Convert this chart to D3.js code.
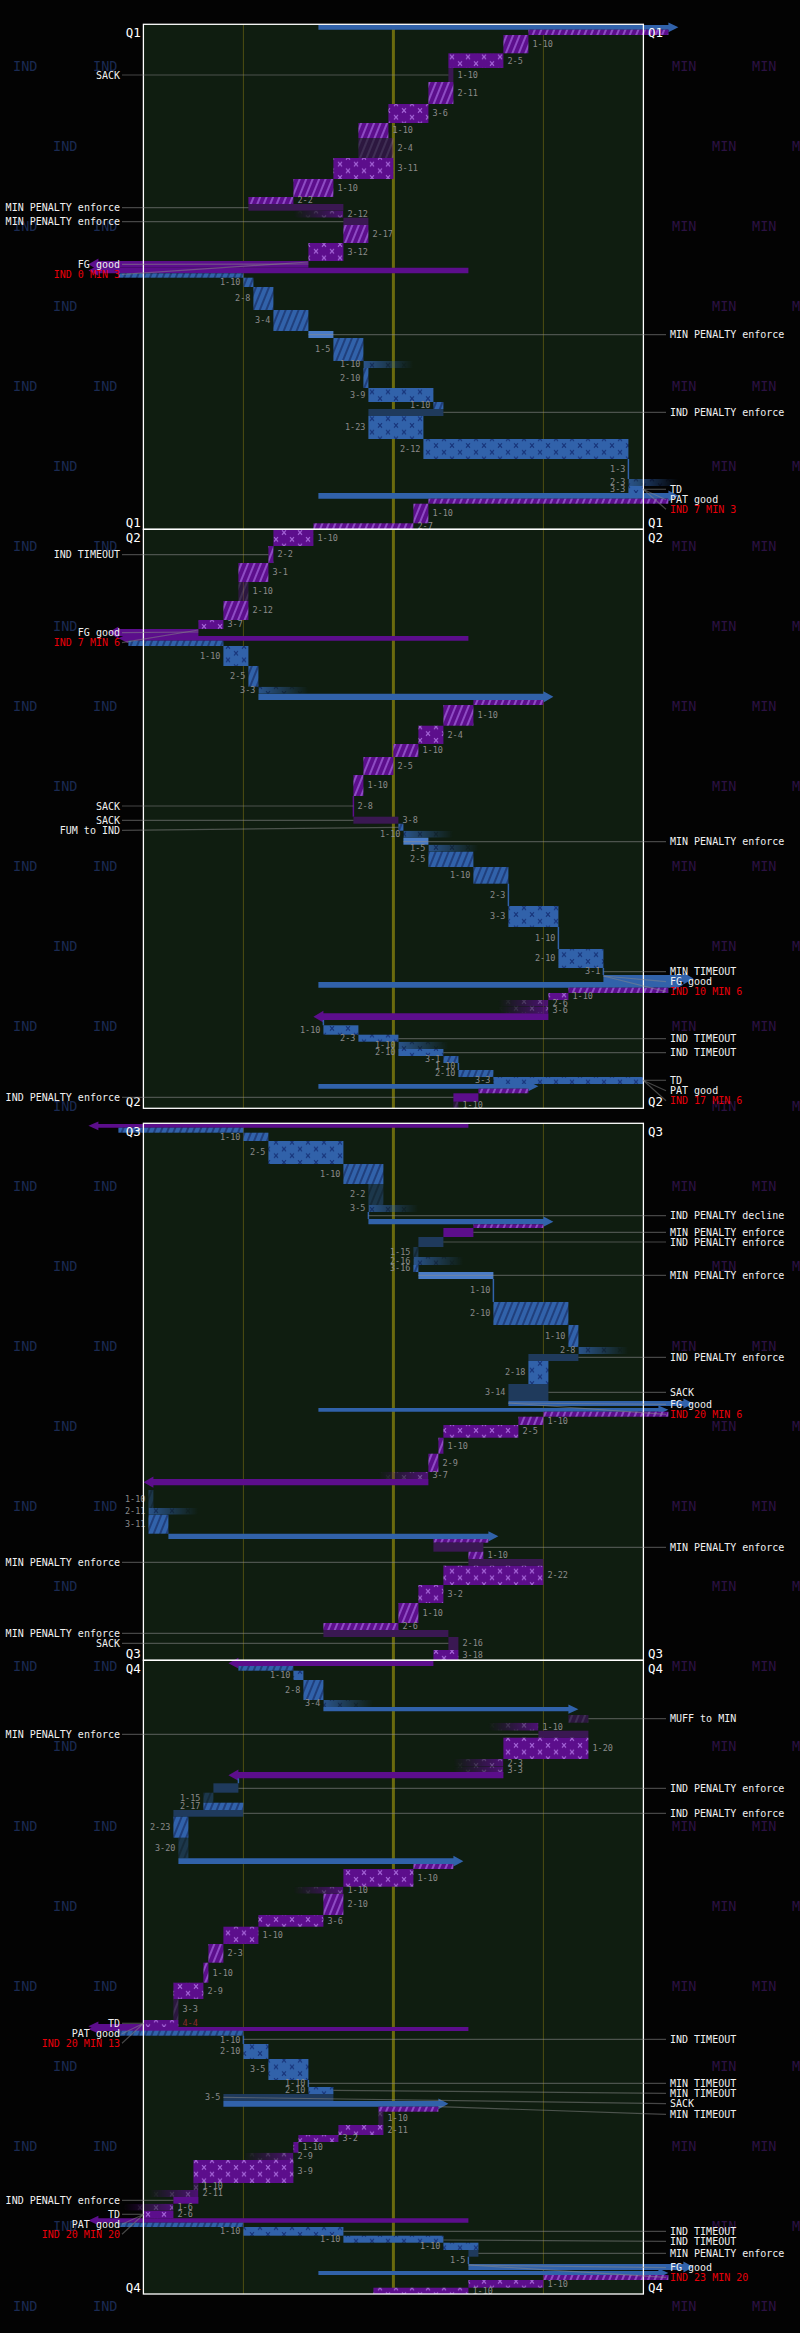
<!DOCTYPE html>
<html><head><meta charset="utf-8">
<script src="https://cdn.jsdelivr.net/npm/d3@7"></script>
<style>body{margin:0;background:#030303}svg{display:block}</style>
</head><body><svg id="c" width="800" height="2333"></svg>
<script>
// ---------- DATA ----------
const quarters = ["Q1","Q2","Q3","Q4"];
const quarterStart = [0.3, 505.3, 1099.3, 1636.3];   // timeline units
const quarterEnd   = [505.3, 1084.3, 1636.3, 2270];
const yardLines = [20, 50, 80];
const teams = ["IND","MIN"];

// [team, type, fromYard, toYard, t0, t1, downLabel]
const plays = [
 ['I','kick',35,107,1,5.7,''],
 ['M','ret',105,77,5.7,11,''],
 ['M','run',77,72,11,29.3,'1-10'],
 ['M','pass',72,61,29.3,44,'2-5'],
 ['M','sack',61,62,44,58,'1-10'],
 ['M','run',62,57,58,80,'2-11'],
 ['M','pass',57,49,80,99,'3-6'],
 ['M','run',49,43,99,114,'1-10'],
 ['M','runL',43,50,114,134,'2-4'],
 ['M','pass',50,38,134,155,'3-11'],
 ['M','run',38,30,155,173,'1-10'],
 ['M','run',30,21,173,180,'2-2'],
 ['M','penB',21,40,180,186.7,''],
 ['M','inc',40,40,186.7,193.7,'2-12'],
 ['M','penB',40,45,193.7,201,''],
 ['M','run',45,40,201,219,'2-17'],
 ['M','pass',40,33,219,237,'3-12'],
 ['M','kick',33,-11,237,243.7,''],
 ['M','kick',65,-11,243.7,249.3,''],
 ['I','ret',-5,20,249.3,253.7,''],
 ['I','run',20,22,253.7,263,'1-10'],
 ['I','run',22,26,263,286,'2-8'],
 ['I','run',26,33,286,307,'3-4'],
 ['I','penG',33,38,307,314,''],
 ['I','run',38,44,314,337,'1-5'],
 ['I','inc',44,44,337,344,'1-10'],
 ['I','run',44,45,344,364,'2-10'],
 ['I','pass',45,58,364,378,'3-9'],
 ['I','run',58,60,378,385,'1-10'],
 ['I','penB',60,45,385,392,''],
 ['I','pass',45,56,392,415,'1-23'],
 ['I','pass',56,97,415,435,'2-12'],
 ['I','zero',97,97,435,455,'1-3'],
 ['I','inc',97,97,455,462,'2-3'],
 ['I','pass',97,100,462,469,'3-3'],
 ['I','kick',35,107,469,474.7,''],
 ['M','ret',105,57,474.7,479.7,''],
 ['M','run',57,54,479.7,499.3,'1-10'],
 ['M','run',54,34,499.3,505.3,'2-7'],
 ['M','pass',34,26,505.3,522,'1-10'],
 ['M','run',26,25,522,539,'2-2'],
 ['M','run',25,19,539,558,'3-1'],
 ['M','runL',19,21,558,577,'1-10'],
 ['M','run',21,16,577,596,'2-12'],
 ['M','pass',16,11,596,605,'3-7'],
 ['M','kick',11,-7,605,612,''],
 ['M','kick',65,-5,612,616.7,''],
 ['I','ret',-3,16,616.7,622,''],
 ['I','pass',16,21,622,642,'1-10'],
 ['I','run',21,23,642,662.7,'2-5'],
 ['I','inc',23,23,662.7,669.7,'3-3'],
 ['I','kick',23,82,669.7,676,''],
 ['M','ret',80,66,676,681,''],
 ['M','run',66,60,681,701.7,'1-10'],
 ['M','pass',60,55,701.7,720,'2-4'],
 ['M','run',55,50,720,733,'1-10'],
 ['M','run',50,44,733,751,'2-5'],
 ['M','run',44,42,751,772,'1-10'],
 ['M','zero',42,42,772,792.7,'2-8'],
 ['M','sack',42,51,792.7,799.7,'3-8'],
 ['I','ret',51,52,799.7,806.7,''],
 ['I','inc',52,52,806.7,813.7,'1-10'],
 ['I','penG',52,57,813.7,820.7,''],
 ['I','inc',57,57,820.7,827.7,'1-5'],
 ['I','run',57,66,827.7,843,'2-5'],
 ['I','run',66,73,843,859.7,'1-10'],
 ['I','zero',73,73,859.7,882,'2-3'],
 ['I','pass',73,83,882,903,'3-3'],
 ['I','zero',83,83,903,925,'1-10'],
 ['I','pass',83,92,925,944,'2-10'],
 ['I','zero',92,92,944,951,'3-1'],
 ['I','kick',92,110,951,958,''],
 ['I','kick',35,108,958,963.7,''],
 ['M','ret',105,85,963.7,969,''],
 ['M','pass',85,81,969,976,'1-10'],
 ['M','inc',81,81,976,982.7,'2-6'],
 ['M','inc',81,81,982.7,989.3,'3-6'],
 ['M','kick',81,34,989.3,996,''],
 ['I','zero',36,36,996,1001.3,''],
 ['I','pass',36,43,1001.3,1010.7,'1-10'],
 ['I','pass',43,51,1010.7,1017.7,'2-3'],
 ['I','inc',51,51,1017.7,1025,'1-10'],
 ['I','pass',51,60,1025,1032,'2-10'],
 ['I','run',60,63,1032,1039,'3-1'],
 ['I','zero',63,63,1039,1046,'1-10'],
 ['I','run',63,70,1046,1053,'2-10'],
 ['I','pass',70,100,1053,1060,'3-3'],
 ['I','kick',35,79,1060,1064.7,''],
 ['M','ret',77,67,1064.7,1069.3,''],
 ['M','penG',67,62,1069.3,1077.7,''],
 ['M','runL',62,63,1077.7,1084.3,'1-10'],
 ['M','kick',65,-11,1100,1103.7,''],
 ['I','ret',-5,20,1103.7,1108.7,''],
 ['I','run',20,25,1108.7,1117,'1-10'],
 ['I','pass',25,40,1117,1140,'2-5'],
 ['I','run',40,48,1140,1160,'1-10'],
 ['I','runL',48,45,1160,1181,'2-2'],
 ['I','inc',45,45,1181,1188,'3-5'],
 ['I','zero',45,45,1188,1195,''],
 ['I','kick',45,82,1195,1200.3,''],
 ['M','ret',80,66,1200.3,1204,''],
 ['M','penG',66,60,1204,1213,''],
 ['I','penB',60,55,1213,1223,''],
 ['I','runL',55,54,1223,1233,'1-15'],
 ['I','inc',54,54,1233,1241,'2-16'],
 ['I','run',54,55,1241,1248,'3-16'],
 ['I','penG',55,70,1248,1255,''],
 ['I','zero',70,70,1255,1278,'1-10'],
 ['I','run',70,85,1278,1301,'2-10'],
 ['I','run',85,87,1301,1323,'1-10'],
 ['I','inc',87,87,1323,1330,'2-8'],
 ['I','penB',87,77,1330,1337,''],
 ['I','pass',77,81,1337,1360,'2-18'],
 ['I','sack',81,73,1360,1377,'3-14'],
 ['I','kick',73,110,1377,1382,''],
 ['I','kick',35,105,1384,1387.7,''],
 ['M','ret',105,80,1387.7,1392.7,''],
 ['M','run',80,75,1392.7,1401,'1-10'],
 ['M','pass',75,60,1401,1413.7,'2-5'],
 ['M','run',60,59,1413.7,1429.7,'1-10'],
 ['M','run',59,57,1429.7,1448,'2-9'],
 ['M','inc',57,57,1448,1455,'3-7'],
 ['M','kick',57,0,1455,1461.3,''],
 ['I','runL',2,1,1466,1484,'1-10'],
 ['I','inc',1,1,1484,1490.7,'2-11'],
 ['I','run',1,5,1490.7,1509.7,'3-11'],
 ['I','kick',5,71,1509.7,1515,''],
 ['M','ret',69,58,1515,1518.7,''],
 ['M','penB',58,68,1518.7,1527.7,''],
 ['M','run',68,65,1527.7,1535,'1-10'],
 ['M','penB',65,80,1535,1541.7,''],
 ['M','pass',80,60,1541.7,1561,'2-22'],
 ['M','pass',60,55,1561,1579,'3-2'],
 ['M','run',55,51,1579,1599,'1-10'],
 ['M','run',51,36,1599,1606,'2-6'],
 ['M','penB',36,61,1606,1613,''],
 ['M','sack',61,63,1613,1626,'2-16'],
 ['M','pass',63,58,1626,1636.3,'3-18'],
 ['M','kick',58,17,1636.3,1642,''],
 ['I','ret',19,30,1642,1646.7,''],
 ['I','pass',30,32,1646.7,1656,'1-10'],
 ['I','run',32,36,1656,1676,'2-8'],
 ['I','inc',36,36,1676,1683,'3-4'],
 ['I','kick',36,87,1683,1687.3,''],
 ['M','runL',89,85,1691,1698.7,''],
 ['M','inc',79,79,1698.7,1706.7,'1-10'],
 ['M','penB',79,89,1706.7,1713.7,''],
 ['M','pass',89,72,1713.7,1735,'1-20'],
 ['M','inc',72,72,1735,1742.7,'2-3'],
 ['M','inc',72,72,1742.7,1749.7,'3-3'],
 ['M','kick',72,17,1748,1754.3,''],
 ['I','zero',19,19,1754.3,1759.3,''],
 ['I','penB',19,14,1759.3,1768.7,''],
 ['I','runL',14,12,1768.7,1778.7,'1-15'],
 ['I','run',12,20,1778.7,1786,'2-17'],
 ['I','penB',20,6,1786,1792.7,''],
 ['I','run',6,9,1792.7,1813.7,'2-23'],
 ['I','runL',9,7,1813.7,1834.3,'3-20'],
 ['I','kick',7,64,1834.3,1840,''],
 ['M','ret',62,54,1840,1845,''],
 ['M','pass',54,40,1845,1862.7,'1-10'],
 ['M','inc',40,40,1862.7,1869.7,'1-10'],
 ['M','run',40,36,1869.7,1891,'2-10'],
 ['M','pass',36,23,1891,1902.7,'3-6'],
 ['M','pass',23,16,1902.7,1920,'1-10'],
 ['M','run',16,13,1920,1938.7,'2-3'],
 ['M','run',13,12,1938.7,1958.7,'1-10'],
 ['M','pass',12,6,1958.7,1975,'2-9'],
 ['M','runL',6,7,1975,1996,'3-3'],
 ['M','pass',7,0,1996,2003,'4-4'],
 ['M','kick',0,-11,2000,2004.5,''],
 ['M','kick',65,-11,2003,2007,''],
 ['I','ret',-5,20,2006.7,2011.7,''],
 ['I','zero',20,20,2011.7,2020,'1-10'],
 ['I','pass',20,25,2020,2035,'2-10'],
 ['I','pass',25,33,2035,2056,'3-5'],
 ['I','zero',33,33,2056,2063,'1-10'],
 ['I','pass',33,38,2063,2070,'2-10'],
 ['I','sack',38,16,2070,2077,'3-5'],
 ['I','kick',16,61,2077,2082.7,''],
 ['M','ret',59,47,2082.7,2087.7,''],
 ['M','passL',47,48,2087.7,2101,'1-10'],
 ['M','pass',48,39,2101,2111,'2-11'],
 ['M','pass',39,31,2111,2118,'3-2'],
 ['M','pass',31,30,2118,2128.7,'1-10'],
 ['M','inc',30,30,2128.7,2136,'2-9'],
 ['M','pass',30,10,2136,2159,'3-9'],
 ['M','passL',10,11,2159,2166,'1-10'],
 ['M','inc',11,11,2166,2173,'2-11'],
 ['M','penG',11,6,2173,2179.7,''],
 ['M','inc',6,6,2179.7,2186.7,'1-6'],
 ['M','pass',6,0,2186.7,2194.3,'2-6'],
 ['M','kick',65,-11,2194.3,2198.7,''],
 ['I','ret',-5,20,2198.7,2203,''],
 ['I','pass',20,40,2203,2211.7,'1-10'],
 ['I','pass',40,60,2211.7,2218.7,'1-10'],
 ['I','pass',60,67,2218.7,2226,'1-10'],
 ['I','penB',67,65,2226,2232.7,''],
 ['I','zero',65,65,2232.7,2240,'1-5'],
 ['I','kick',65,110,2240,2246,''],
 ['I','kick',35,105,2247,2251,''],
 ['M','ret',105,80,2251,2256,''],
 ['M','pass',80,65,2256,2263.7,'1-10'],
 ['M','pass',65,46,2263.7,2270,'1-10']
];

// [side, text, labelT, targetYard, targetT, kind]
const notes = [
 ['L','SACK',51,61,51],
 ['L','MIN PENALTY enforce',183.7,21,183.7],
 ['L','MIN PENALTY enforce',197.7,40,197.7],
 ['L','FG good',240.3,33,240],
 ['L','IND 0 MIN 3',250.3,33,238,'s'],
 ['R','MIN PENALTY enforce',310.7,33,310.7],
 ['R','IND PENALTY enforce',388.3,60,388.3],
 ['R','TD',465.3,100,465.3],
 ['R','PAT good',475.7,100,465.5],
 ['R','IND 7 MIN 3',485.3,100,465.5,'s'],
 ['L','IND TIMEOUT',530.7,25,530.7],
 ['L','FG good',608.7,11,608],
 ['L','IND 7 MIN 6',618.7,11,606,'s'],
 ['L','SACK',782,42,782],
 ['L','SACK',796.3,42,796.3],
 ['L','FUM to IND',806.3,51,803.3],
 ['R','MIN PENALTY enforce',817.7,52,817.7],
 ['R','MIN TIMEOUT',947.7,92,947.7],
 ['R','FG good',957.7,92,952],
 ['R','IND 10 MIN 6',967.7,92,952,'s'],
 ['R','IND TIMEOUT',1014.7,51,1014.7],
 ['R','IND TIMEOUT',1028.7,60,1028.7],
 ['R','TD',1056.3,100,1056.3],
 ['R','PAT good',1066.7,100,1056.5],
 ['R','IND 17 MIN 6',1076.7,100,1056.5,'s'],
 ['L','IND PENALTY enforce',1073.3,62,1073.3],
 ['R','IND PENALTY decline',1191.7,45,1191.7],
 ['R','MIN PENALTY enforce',1208.3,66,1208.3],
 ['R','IND PENALTY enforce',1218,60,1218],
 ['R','MIN PENALTY enforce',1251.3,55,1251.3],
 ['R','IND PENALTY enforce',1333.3,87,1333.3],
 ['R','SACK',1368.3,81,1368.3],
 ['R','FG good',1380.3,73,1379],
 ['R','IND 20 MIN 6',1390.3,73,1379,'s'],
 ['R','MIN PENALTY enforce',1523.3,68,1523.3],
 ['L','MIN PENALTY enforce',1538.3,65,1538.3],
 ['L','MIN PENALTY enforce',1609.3,36,1609.3],
 ['L','SACK',1619.3,61,1619.3],
 ['R','MUFF to MIN',1694.7,89,1694.7],
 ['L','MIN PENALTY enforce',1710.3,79,1710.3],
 ['R','IND PENALTY enforce',1764.3,19,1764.3],
 ['R','IND PENALTY enforce',1789.3,20,1789.3],
 ['L','TD',1999.3,0,1999.3],
 ['L','PAT good',2009.7,0,1999.5],
 ['L','IND 20 MIN 13',2019.3,0,1999.5,'s'],
 ['R','IND TIMEOUT',2015.3,20,2015.3],
 ['R','MIN TIMEOUT',2059.3,33,2059.3],
 ['R','MIN TIMEOUT',2069.3,38,2066.3],
 ['R','SACK',2079.7,16,2073.3],
 ['R','MIN TIMEOUT',2090.3,59,2082.7],
 ['L','IND PENALTY enforce',2176.3,6,2176.3],
 ['L','TD',2190.3,0,2190.3],
 ['L','PAT good',2200.3,0,2190.5],
 ['L','IND 20 MIN 20',2210.3,0,2190.5,'s'],
 ['R','IND TIMEOUT',2207.3,40,2207.3],
 ['R','IND TIMEOUT',2217.3,60,2216],
 ['R','MIN PENALTY enforce',2229.3,67,2229.3],
 ['R','FG good',2243.7,65,2241],
 ['R','IND 23 MIN 20',2253.3,65,2241,'s']
];

// ---------- DRAW ----------
const svg = d3.select('#c');
const W = 800, H = 2333;
const x = d3.scaleLinear().domain([0,100]).range([143.4,643.4]);
const y = d3.scaleLinear().domain([0,2270]).range([24,2294]);
const mono = "'DejaVu Sans Mono', 'Liberation Mono', monospace";
const col = {I:'#3162aa', M:'#5c0e8c'};
const stripe = {I:'#1b3670', M:'#9a5ad2'};
const xmark = {I:'#17347a', M:'#a565d8'};
const dark = {I:'#1f3a5c', M:'#3a1852'};
const light = {I:'#4a7cc6', M:'#5c0e8c'};

svg.append('rect').attr('width',W).attr('height',H).attr('fill','#030303');
const defs = svg.append('defs');
['I','M'].forEach(k=>{
  const h = defs.append('pattern').attr('id','hatch'+k).attr('patternUnits','userSpaceOnUse')
    .attr('width',6).attr('height',6).attr('patternTransform','rotate(22)');
  h.append('rect').attr('width',6).attr('height',6).attr('fill',col[k]);
  h.append('line').attr('x1',3).attr('x2',3).attr('y1',-1).attr('y2',7)
    .attr('stroke',stripe[k]).attr('stroke-width',1.6);
  const p = defs.append('pattern').attr('id','xp'+k).attr('patternUnits','userSpaceOnUse')
    .attr('width',16).attr('height',13.4);
  p.append('rect').attr('width',16).attr('height',13.4).attr('fill',col[k]);
  [[4,3.3],[12,10]].forEach(([cx,cy])=>{
    p.append('path').attr('d',`M${cx-2},${cy-2.2}L${cx+2},${cy+2.2}M${cx+2},${cy-2.2}L${cx-2},${cy+2.2}`)
     .attr('stroke',xmark[k]).attr('stroke-width',1.1).attr('fill','none');
  });
});
[['fadeR',1,0],['fadeL',0,1]].forEach(([id,a,b])=>{
  const g = defs.append('linearGradient').attr('id','g'+id).attr('x1',0).attr('x2',1).attr('y1',0).attr('y2',0);
  g.append('stop').attr('offset',0).attr('stop-color', a? '#ccc':'#000');
  g.append('stop').attr('offset',1).attr('stop-color', b? '#ccc':'#000');
  const m = defs.append('mask').attr('id',id).attr('maskContentUnits','objectBoundingBox');
  m.append('rect').attr('width',1).attr('height',1).attr('fill','url(#g'+id+')');
});

// background team watermark
const bg = svg.append('g').attr('font-family',mono).attr('font-size',13.5);
d3.range(0,29).forEach(i=>{
  const cy = y(41.7 + i*80);
  const odd = i%2===1;
  (odd?[53]:[13,93]).forEach(px=>bg.append('text').attr('x',px).attr('y',cy).attr('dy','0.36em').attr('fill','#1a2a52').text(teams[0]));
  (odd?[712,792]:[672,752]).forEach(px=>bg.append('text').attr('x',px).attr('y',cy).attr('dy','0.36em').attr('fill','#2b1142').text(teams[1]));
});

// panels
quarters.forEach((q,i)=>{
  const t = y(quarterStart[i]), b = y(quarterEnd[i]);
  svg.append('rect').attr('x',x(0)).attr('y',t).attr('width',x(100)-x(0)).attr('height',b-t)
    .attr('fill','#0f1d10');
  yardLines.forEach(yl=>{
    svg.append('line').attr('x1',x(yl)).attr('x2',x(yl)).attr('y1',t).attr('y2',b)
      .attr('stroke', yl===50?'#6a6a0e':'#4e4e12').attr('stroke-width', yl===50?3:1);
  });
});

// plays
const pg = svg.append('g');
const lg = svg.append('g').attr('font-family',mono).attr('font-size',8.5);
plays.forEach(p=>{
  const [tm,type,from,to,t0,t1,lab] = p;
  const y0 = y(t0), y1 = y(t1), h = y1-y0, cy = (y0+y1)/2;
  const xs = x(from), xt = x(to);
  const lo = Math.min(xs,xt), hi = Math.max(xs,xt);
  if(type==='kick'){
    const dir = Math.sign(xt-xs), hb = h/2, hl = 10, xb = xt-dir*hl;
    pg.append('path').attr('fill',col[tm])
      .attr('d',`M${xs},${cy-hb}L${xb},${cy-hb}L${xb},${cy-hb-2.5}L${xt},${cy}L${xb},${cy+hb+2.5}L${xb},${cy+hb}L${xs},${cy+hb}Z`);
  } else if(type==='inc'){
    const w = 50, xl = tm==='I'? xs : xs-w;
    pg.append('rect').attr('x',xl).attr('y',y0).attr('width',w).attr('height',h)
      .attr('fill','url(#xp'+tm+')').attr('mask', tm==='I'?'url(#fadeR)':'url(#fadeL)');
  } else if(type==='zero'){
    pg.append('rect').attr('x',xs-0.75).attr('y',y0).attr('width',1.5).attr('height',h).attr('fill',col[tm]);
  } else {
    let fill, op = 1;
    if(type==='run'||type==='ret') fill='url(#hatch'+tm+')';
    else if(type==='runL'){fill='url(#hatch'+tm+')'; op=0.38;}
    else if(type==='pass') fill='url(#xp'+tm+')';
    else if(type==='passL'){fill='url(#xp'+tm+')'; op=0.45;}
    else if(type==='sack'||type==='penB') fill=dark[tm];
    else if(type==='penG') fill=light[tm];
    pg.append('rect').attr('x',lo).attr('y',y0).attr('width',Math.max(hi-lo,1.5)).attr('height',h)
      .attr('fill',fill).attr('opacity',op);
  }
  if(lab){
    const isI = tm==='I';
    const lx = isI ? (type==='inc'||type==='zero'? xs : lo) - 3 : (type==='inc'||type==='zero'? xs : hi) + 4;
    lg.append('text').attr('x',lx).attr('y',cy).attr('dy','0.35em')
      .attr('text-anchor', isI?'end':'start')
      .attr('fill', lab[0]==='4' ? '#8a2a2a' : '#8a8a8a').text(lab);
  }
});

// quarter labels and borders
const ql = svg.append('g').attr('font-family',mono).attr('font-size',12.5).attr('fill','#fff');
quarters.forEach((q,i)=>{
  const t = y(quarterStart[i]), b = y(quarterEnd[i]);
  svg.append('rect').attr('x',x(0)).attr('y',t).attr('width',x(100)-x(0)).attr('height',b-t)
    .attr('fill','none').attr('stroke','#fff').attr('stroke-width',1.3);
  [[t+13],[b-2]].forEach(([yy])=>{
    ql.append('text').attr('x',x(0)-2.5).attr('y',yy).attr('text-anchor','end').text(q);
    ql.append('text').attr('x',x(100)+4.5).attr('y',yy).text(q);
  });
});

// notes
const ng = svg.append('g');
const nt = svg.append('g').attr('font-family',mono).attr('font-size',10);
notes.forEach(n=>{
  const [side,text,lt,ty,tt,kind] = n;
  const ly = y(lt);
  const x0 = side==='L' ? 122 : 666;
  ng.append('line').attr('x1',x0).attr('y1',ly).attr('x2',x(ty)).attr('y2',y(tt))
    .attr('stroke','#8a8a8a').attr('stroke-opacity',0.5).attr('stroke-width',1.2);
  nt.append('text').attr('x', side==='L'?120:670).attr('y',ly).attr('dy','0.36em')
    .attr('text-anchor', side==='L'?'end':'start')
    .attr('fill', kind==='s' ? '#e8000a' : '#f0f0f0').text(text);
});
</script></body></html>
